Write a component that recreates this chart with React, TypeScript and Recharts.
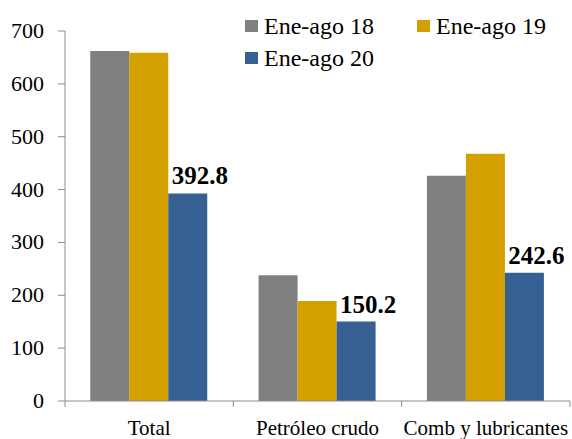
import React from "react";
import { BarChart, Bar, XAxis, YAxis, Legend, LabelList } from "recharts";

const categories = ["Total", "Petróleo crudo", "Comb y lubricantes"];
const eneAgo18 = [662, 238, 426];
const eneAgo19 = [659, 189, 468];
const eneAgo20 = [392.8, 150.2, 242.6];
const seriesNames = ["Ene-ago 18", "Ene-ago 19", "Ene-ago 20"];
const yTicks = [0, 100, 200, 300, 400, 500, 600, 700];

const COLORS = ["#808080", "#D4A000", "#366092"];
const FONT = "'Liberation Serif', 'Times New Roman', serif";
const AXIS = "#8c8c8c";

const W = 572;
const H = 439;
const M = { top: 31, right: 2, bottom: 0, left: 0 };
const YW = 65;
const XH = 38;
const BAND = (W - M.right - M.left - YW) / categories.length;

const data = categories.map((c, i) => ({
  name: c,
  s18: eneAgo18[i],
  s19: eneAgo19[i],
  s20: eneAgo20[i],
}));

const XTick = (props: any) => {
  const { x, y, payload, index } = props;
  const top = y - 8;
  return (
    <g>
      {index === 0 && (
        <line x1={x - BAND / 2} x2={x - BAND / 2} y1={top} y2={top + 6} stroke={AXIS} />
      )}
      <line x1={x + BAND / 2} x2={x + BAND / 2} y1={top} y2={top + 6} stroke={AXIS} />
      <text
        x={x}
        y={top + 34}
        textAnchor="middle"
        style={{ fontFamily: FONT }}
        fontSize={21}
        fill="#000"
      >
        {payload.value}
      </text>
    </g>
  );
};

const YTick = (props: any) => {
  const { x, y, payload } = props;
  return (
    <text
      x={x - 2}
      y={y + 7}
      textAnchor="end"
      style={{ fontFamily: FONT }}
      fontSize={22}
      fill="#000"
    >
      {payload.value}
    </text>
  );
};

const ValueLabel = (props: any) => {
  const { x, y, width, value } = props;
  return (
    <text
      x={x + width / 2 + 12}
      y={y - 9}
      textAnchor="middle"
      style={{ fontFamily: FONT }}
      fontSize={25}
      fontWeight="bold"
      fill="#000"
    >
      {value}
    </text>
  );
};

const legendPos = [
  { left: 5, top: 0 },
  { left: 177, top: 0 },
  { left: 5, top: 32 },
];

const LegendContent = () => (
  <div style={{ position: "relative", width: 330, height: 70 }}>
    {seriesNames.map((n, i) => (
      <div
        key={n}
        style={{
          position: "absolute",
          left: legendPos[i].left,
          top: legendPos[i].top,
          display: "flex",
          alignItems: "center",
          fontFamily: FONT,
          fontSize: 24,
          color: "#000",
          whiteSpace: "nowrap",
          lineHeight: "30px",
        }}
      >
        <span
          style={{
            display: "inline-block",
            width: 13,
            height: 12,
            background: COLORS[i],
            marginRight: 6,
          }}
        />
        {n}
      </div>
    ))}
  </div>
);

export default function App() {
  return (
    <div style={{ position: "absolute", left: 0, top: 0, width: W, height: H, background: "#fff" }}>
      <BarChart
        width={W}
        height={H}
        data={data}
        margin={M}
        barCategoryGap="15%"
        barGap={0}
      >
        <XAxis
          dataKey="name"
          height={XH}
          axisLine={{ stroke: AXIS }}
          tickLine={false}
          tick={<XTick />}
          interval={0}
        />
        <YAxis
          width={YW}
          domain={[0, 700]}
          ticks={yTicks}
          interval={0}
          axisLine={{ stroke: AXIS }}
          tickLine={{ stroke: AXIS }}
          tickSize={7}
          tickMargin={12}
          tick={<YTick />}
        />
        <Legend
          layout="vertical"
          align="center"
          verticalAlign="middle"
          wrapperStyle={{ left: 240, top: 11, width: 330, height: 70 }}
          content={<LegendContent />}
        />
        <Bar dataKey="s18" name={seriesNames[0]} fill={COLORS[0]} isAnimationActive={false} />
        <Bar dataKey="s19" name={seriesNames[1]} fill={COLORS[1]} isAnimationActive={false} />
        <Bar dataKey="s20" name={seriesNames[2]} fill={COLORS[2]} isAnimationActive={false}>
          <LabelList dataKey="s20" content={<ValueLabel />} />
        </Bar>
      </BarChart>
    </div>
  );
}
